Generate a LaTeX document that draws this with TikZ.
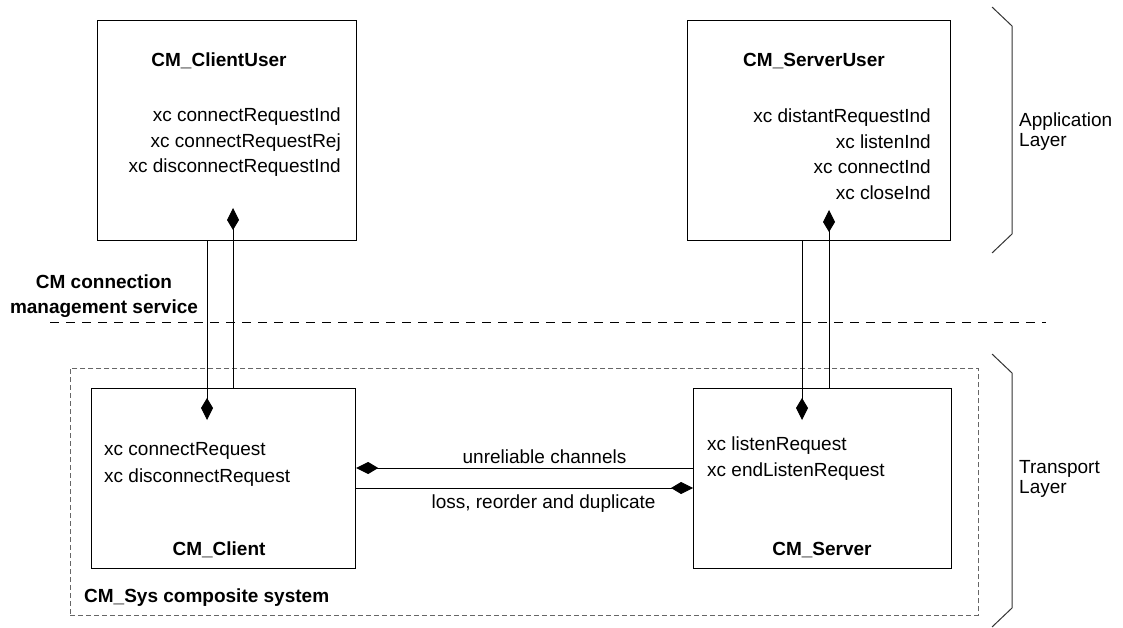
\documentclass[tikz,border=0pt]{standalone}
\usepackage{fontspec}
\setmainfont{Liberation Sans}
\usetikzlibrary{arrows.meta}
\begin{document}
\begin{tikzpicture}[x=1pt,y=-1pt,
  font=\fontsize{19pt}{25pt}\selectfont,
  comp/.style={draw, line width=1.2pt, rectangle, anchor=north west, inner sep=0pt},
  txt/.style={inner sep=0pt},
  dia/.style={line width=1pt, -{Kite[length=22pt,width=12pt,inset=10pt]}},
  brace/.style={line width=1pt, black!80}
]
\useasboundingbox (0,0) rectangle (1123,628);

% composite system frame
\node[draw=black!60, dashed, dash pattern=on 5pt off 3pt, line width=0.9pt, rectangle,
      anchor=north west, inner sep=0pt, minimum width=908pt, minimum height=247pt] (sys) at (70,368) {};

% components
\node[comp, minimum width=259pt, minimum height=220pt] (cu) at (97,20) {};
\node[comp, minimum width=263pt, minimum height=220pt] (su) at (687,20) {};
\node[comp, minimum width=264pt, minimum height=180pt] (cl) at (91,388) {};
\node[comp, minimum width=258pt, minimum height=180pt] (sv) at (693,388) {};

% service boundary
\coordinate (sbL) at (50,322);
\coordinate (sbR) at (1046,322);
\draw[line width=1pt, dash pattern=on 9pt off 7pt] (sbL) -- (sbR);

% CM_ClientUser texts
\node[txt, font=\fontsize{19pt}{25pt}\selectfont\bfseries, anchor=base] (cuT) at (219,67) {CM\_ClientUser};
\node[txt, anchor=base east] (cu1) at (341,122) {xc connectRequestInd};
\node[txt, anchor=base east] (cu2) at (341,147.5) {xc connectRequestRej};
\node[txt, anchor=base east] (cu3) at (341,173) {xc disconnectRequestInd};

% CM_ServerUser texts
\node[txt, font=\fontsize{19pt}{25pt}\selectfont\bfseries, anchor=base] (suT) at (814,67) {CM\_ServerUser};
\node[txt, anchor=base east] (su1) at (931,123) {xc distantRequestInd};
\node[txt, anchor=base east] (su2) at (931,148.5) {xc listenInd};
\node[txt, anchor=base east] (su3) at (931,174) {xc connectInd};
\node[txt, anchor=base east] (su4) at (931,199.5) {xc closeInd};

% CM_Client texts
\node[txt, anchor=base west] (cl1) at (104,455) {xc connectRequest};
\node[txt, anchor=base west] (cl2) at (104,482) {xc disconnectRequest};
\node[txt, font=\fontsize{19pt}{25pt}\selectfont\bfseries, anchor=base] (clT) at (219,555) {CM\_Client};

% CM_Server texts
\node[txt, anchor=base west] (sv1) at (707,450) {xc listenRequest};
\node[txt, anchor=base west] (sv2) at (707,476) {xc endListenRequest};
\node[txt, font=\fontsize{19pt}{25pt}\selectfont\bfseries, anchor=base] (svT) at (822,555) {CM\_Server};

% frame and boundary labels
\node[txt, font=\fontsize{19pt}{25pt}\selectfont\bfseries, anchor=base west] (sysT) at (84,602) {CM\_Sys composite system};
\node[txt, font=\fontsize{19pt}{25pt}\selectfont\bfseries, anchor=base] (svc1) at (104,288) {CM connection};
\node[txt, font=\fontsize{19pt}{25pt}\selectfont\bfseries, anchor=base] (svc2) at (104,313) {management service};

% layer labels
\node[txt, anchor=base west] (app1) at (1019,127) {Application};
\node[txt, anchor=base west] (app2) at (1019,147) {Layer};
\node[txt, anchor=base west] (tr1) at (1019,473) {Transport};
\node[txt, anchor=base west] (tr2) at (1019,493) {Layer};

% layer braces
\draw[brace] (992,7) -- (1012,26) -- (1012,234) -- (992,253);
\draw[brace] (992,354) -- (1012,373) -- (1012,608) -- (992,627);

% vertical connectors
\coordinate (d1) at (207,420);
\coordinate (d2) at (233,208);
\coordinate (d3) at (802,420);
\coordinate (d4) at (829,210);
\draw[dia] (cu.south -| d1) -- (d1);
\draw[dia] (cl.north -| d2) -- (d2);
\draw[dia] (su.south -| d3) -- (d3);
\draw[dia] (sv.north -| d4) -- (d4);

% channels
\coordinate (h1) at (0,468);
\coordinate (h2) at (0,488);
\draw[dia] (sv.west |- h1) -- (cl.east |- h1);
\draw[dia] (cl.east |- h2) -- (sv.west |- h2);
\node[txt, anchor=base] (ch1) at (544.5,463) {unreliable channels};
\node[txt, anchor=base] (ch2) at (543.5,508) {loss, reorder and duplicate};
\end{tikzpicture}
\end{document}
